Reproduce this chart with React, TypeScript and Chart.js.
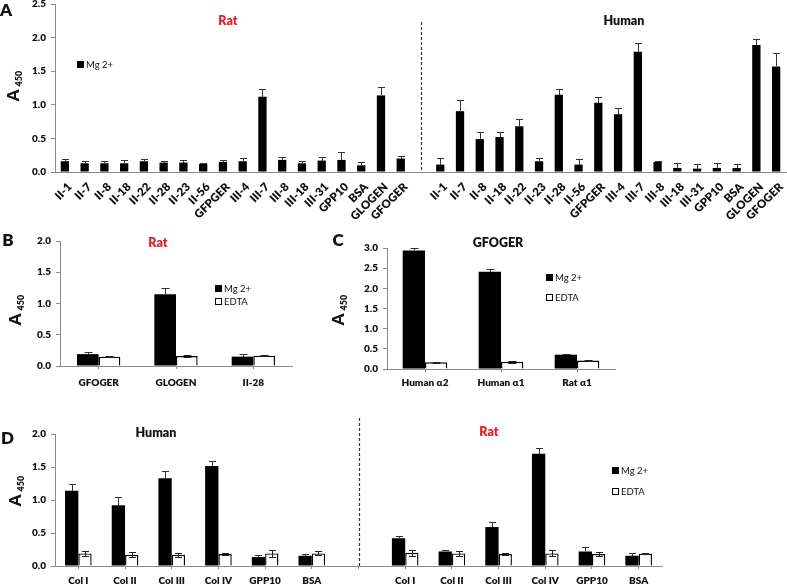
import React, { useEffect, useRef } from 'react';
import { Chart, registerables } from 'chart.js';
Chart.register(...registerables);

const FONT = 'Lato, "Open Sans", "DejaVu Sans", sans-serif';

// ---------- Panel A data ----------
const aRatLabels = ['II-1', 'II-7', 'II-8', 'II-18', 'II-22', 'II-28', 'II-23', 'II-56', 'GFPGER', 'III-4', 'III-7', 'III-8', 'III-18', 'III-31', 'GPP10', 'BSA', 'GLOGEN', 'GFOGER'];
const aRatMg = [0.16, 0.13, 0.13, 0.13, 0.16, 0.14, 0.14, 0.12, 0.15, 0.16, 1.12, 0.18, 0.13, 0.17, 0.18, 0.10, 1.14, 0.20];
const aRatErr = [0.04, 0.03, 0.03, 0.05, 0.03, 0.03, 0.04, 0.01, 0.03, 0.05, 0.11, 0.05, 0.03, 0.05, 0.12, 0.05, 0.12, 0.04];
const aHumanLabels = ['II-1', 'II-7', 'II-8', 'II-18', 'II-22', 'II-23', 'II-28', 'II-56', 'GFPGER', 'III-4', 'III-7', 'III-8', 'III-18', 'III-31', 'GPP10', 'BSA', 'GLOGEN', 'GFOGER'];
const aHumanMg = [0.11, 0.905, 0.49, 0.52, 0.68, 0.16, 1.15, 0.11, 1.03, 0.86, 1.79, 0.15, 0.06, 0.05, 0.06, 0.06, 1.89, 1.57];
const aHumanErr = [0.10, 0.165, 0.11, 0.08, 0.11, 0.05, 0.09, 0.08, 0.09, 0.09, 0.13, 0.02, 0.08, 0.07, 0.08, 0.06, 0.09, 0.20];

// ---------- Panel B data ----------
const bLabels = ['GFOGER', 'GLOGEN', 'II-28'];
const bMg = [0.19, 1.15, 0.15];
const bMgErr = [0.03, 0.10, 0.05];
const bEdta = [0.15, 0.16, 0.165];
const bEdtaErr = [0.005, 0.015, 0.005];

// ---------- Panel C data ----------
const cLabels = ['Human α2', 'Human α1', 'Rat α1'];
const cMg = [2.94, 2.41, 0.355];
const cMgErr = [0.05, 0.06, 0.025];
const cEdta = [0.165, 0.18, 0.21];
const cEdtaErr = [0.01, 0.02, 0.02];

// ---------- Panel D data ----------
const dHumanLabels = ['Col I', 'Col II', 'Col III', 'Col IV', 'GPP10', 'BSA'];
const dHumanMg = [1.14, 0.92, 1.33, 1.515, 0.135, 0.155];
const dHumanMgErr = [0.10, 0.12, 0.11, 0.075, 0.035, 0.025];
const dHumanEdta = [0.19, 0.17, 0.17, 0.18, 0.19, 0.19];
const dHumanEdtaErr = [0.04, 0.035, 0.03, 0.01, 0.05, 0.03];
const dRatLabels = ['Col I', 'Col II', 'Col III', 'Col IV', 'GPP10', 'BSA'];
const dRatMg = [0.42, 0.22, 0.59, 1.70, 0.22, 0.155];
const dRatMgErr = [0.03, 0.025, 0.08, 0.09, 0.065, 0.045];
const dRatEdta = [0.20, 0.19, 0.18, 0.19, 0.18, 0.185];
const dRatEdtaErr = [0.045, 0.035, 0.015, 0.045, 0.03, 0.01];

const AXIS = '#8a8a8a';
const TXT = '#111';
const RED = '#e0202a';
const BOLD = 800;

const errorBarPlugin = {
  id: 'errbars',
  afterDatasetsDraw(chart: any) {
    const ctx = chart.ctx;
    const area = chart.chartArea;
    const ys = chart.scales.y;
    ctx.save();
    ctx.beginPath();
    ctx.rect(area.left, 0, area.right - area.left, area.bottom);
    ctx.clip();
    chart.data.datasets.forEach((ds: any, di: number) => {
      if (!ds.errors) return;
      const meta = chart.getDatasetMeta(di);
      meta.data.forEach((bar: any, i: number) => {
        const v = ds.data[i];
        const e = ds.errors[i];
        if (v == null || e == null) return;
        const x = Math.round(bar.x) + 0.5;
        const cap = ds.errCap || 3.5;
        const hi = Math.round(ys.getPixelForValue(v + e)) + 0.5;
        const lo = ds.errUpperOnly ? Math.round(ys.getPixelForValue(v)) : Math.round(ys.getPixelForValue(v - e)) + 0.5;
        ctx.strokeStyle = ds.errColor || '#222';
        ctx.lineWidth = 1;
        ctx.beginPath();
        ctx.moveTo(x, hi);
        ctx.lineTo(x, lo);
        ctx.moveTo(x - cap, hi);
        ctx.lineTo(x + cap, hi);
        if (!ds.errUpperOnly) {
          ctx.moveTo(x - cap, lo);
          ctx.lineTo(x + cap, lo);
        }
        ctx.stroke();
      });
    });
    ctx.restore();
  },
};

const dividerPlugin = {
  id: 'divider',
  afterDraw(chart: any, _args: any, opts: any) {
    if (!opts || opts.index == null) return;
    const ctx = chart.ctx;
    const x = Math.round(chart.scales.x.getPixelForValue(opts.index)) + 0.5;
    ctx.save();
    ctx.strokeStyle = '#333';
    ctx.lineWidth = 1.2;
    ctx.setLineDash([3, 2]);
    ctx.beginPath();
    ctx.moveTo(x, opts.top);
    ctx.lineTo(x, chart.chartArea.bottom);
    ctx.stroke();
    ctx.restore();
  },
};

// Draws the category labels of the x scale at exactly -45 degrees (Excel style)
const rotLabelsPlugin = {
  id: 'rotlabels',
  afterDraw(chart: any, _args: any, opts: any) {
    if (!opts || !opts.enabled) return;
    const ctx = chart.ctx;
    const xs = chart.scales.x;
    const labels = chart.data.labels;
    ctx.save();
    ctx.font = `${BOLD} ${opts.size}px ${FONT}`;
    ctx.fillStyle = TXT;
    ctx.textAlign = 'right';
    ctx.textBaseline = 'middle';
    labels.forEach((lab: string, i: number) => {
      if (!lab) return;
      const x = xs.getPixelForTick(i) + opts.dx;
      const y = chart.chartArea.bottom + opts.dy;
      ctx.save();
      ctx.translate(x, y);
      ctx.rotate(-Math.PI / 4);
      ctx.fillText(lab, 0, 0);
      ctx.restore();
    });
    ctx.restore();
  },
};

type PanelProps = {
  left: number; top: number; width: number; height: number;
  labels: string[]; datasets: any[];
  yMax: number; yW: number; xH: number; padTop: number; padRight: number;
  xPad: number; xTicks: boolean; rotated?: boolean;
  divider?: { index: number; top: number };
};

function BarPanel(p: PanelProps) {
  const ref = useRef<HTMLCanvasElement>(null);
  useEffect(() => {
    if (!ref.current) return;
    const labelFont = { family: FONT, size: 10, weight: BOLD as any };
    const chart = new Chart(ref.current, {
      type: 'bar',
      data: { labels: p.labels, datasets: p.datasets },
      options: {
        responsive: false,
        animation: false,
        layout: { padding: { top: p.padTop, right: p.padRight, bottom: 0, left: 0 } },
        plugins: {
          legend: { display: false },
          tooltip: { enabled: false },
          divider: p.divider || {},
          rotlabels: p.rotated ? { enabled: true, size: 11.5, dx: 5, dy: 13 } : { enabled: false },
        } as any,
        scales: {
          x: {
            ticks: {
              display: !p.rotated,
              font: labelFont, color: TXT, padding: p.xPad, autoSkip: false,
              maxRotation: 0, minRotation: 0,
            },
            grid: p.xTicks
              ? { display: true, drawOnChartArea: false, drawTicks: true, offset: false, tickLength: 3, color: AXIS }
              : { display: false, drawTicks: false },
            border: { display: true, color: AXIS, width: 1 },
            afterFit: (s: any) => { s.height = p.xH; s.paddingLeft = 0; s.paddingRight = 0; },
          },
          y: {
            min: 0, max: p.yMax,
            ticks: { stepSize: 0.5, callback: (v: any) => Number(v).toFixed(1), font: labelFont, color: TXT, padding: 5 },
            grid: { display: true, drawOnChartArea: false, drawTicks: true, tickLength: 4, color: AXIS },
            border: { display: true, color: AXIS, width: 1 },
            afterFit: (s: any) => { s.width = p.yW; s.paddingTop = 0; s.paddingBottom = 0; },
          },
        },
      } as any,
      plugins: [errorBarPlugin, dividerPlugin, rotLabelsPlugin],
    });
    return () => chart.destroy();
  }, []);
  return (
    <canvas
      ref={ref}
      width={p.width}
      height={p.height}
      style={{ position: 'absolute', left: p.left, top: p.top, width: p.width, height: p.height }}
    />
  );
}

function T({ x, y, children, style }: { x: number; y: number; children: any; style?: any }) {
  return (
    <div
      style={{
        position: 'absolute', left: x, top: y, transform: 'translate(-50%, -50%)',
        whiteSpace: 'nowrap', lineHeight: 1, fontFamily: FONT, ...style,
      }}
    >
      {children}
    </div>
  );
}

function YTitle({ x, y }: { x: number; y: number }) {
  return (
    <div
      style={{
        position: 'absolute', left: x, top: y, transform: 'translate(-50%, -50%) rotate(-90deg)',
        whiteSpace: 'nowrap', lineHeight: 1, fontFamily: FONT, fontWeight: BOLD, color: TXT,
      }}
    >
      <span style={{ fontSize: 16.5 }}>A</span>
      <span style={{ fontSize: 9, position: 'relative', top: 3, marginLeft: 3 }}>450</span>
    </div>
  );
}

function LegendItem({ x, y, label, filled }: { x: number; y: number; label: string; filled: boolean }) {
  return (
    <div style={{ position: 'absolute', left: x, top: y - 6, height: 12, display: 'flex', alignItems: 'center', fontFamily: FONT, fontSize: 9.5, color: TXT, whiteSpace: 'nowrap' }}>
      <div style={{ width: 7, height: 7, boxSizing: 'border-box', background: filled ? '#000' : '#fff', border: '1.3px solid #000', marginRight: 2 }} />
      <span>{label}</span>
    </div>
  );
}

const mgStyle = { backgroundColor: '#000', borderColor: '#000', borderWidth: 0 };
const edtaStyle = { backgroundColor: '#fff', borderColor: '#000', borderWidth: 1.4 };

export default function App() {
  const aLabels = [...aRatLabels, '', ...aHumanLabels];
  const aData = [...aRatMg, null, ...aHumanMg];
  const aErr = [...aRatErr, null, ...aHumanErr];

  const dLabels = [...dHumanLabels, '', ...dRatLabels];
  const dMg = [...dHumanMg, null, ...dRatMg];
  const dMgErr = [...dHumanMgErr, null, ...dRatMgErr];
  const dEd = [...dHumanEdta, null, ...dRatEdta];
  const dEdErr = [...dHumanEdtaErr, null, ...dRatEdtaErr];

  const titleStyle = { fontWeight: BOLD, fontSize: 12.5, color: TXT };
  const letterStyle = { fontWeight: BOLD, fontSize: 17, color: TXT };

  return (
    <div style={{ position: 'absolute', left: 0, top: 0, width: 787, height: 585, background: '#fff', overflow: 'hidden' }}>
      <BarPanel
        left={0} top={0} width={787} height={230}
        labels={aLabels}
        datasets={[{ label: 'Mg 2+', data: aData, errors: aErr, errUpperOnly: true, errColor: '#333', errCap: 3.5, barPercentage: 0.42, categoryPercentage: 1, ...mgStyle }]}
        yMax={2.5} yW={55} xH={58} padTop={4} padRight={1}
        xPad={0} xTicks={false} rotated={true}
        divider={{ index: 18, top: 22 }}
      />
      <BarPanel
        left={0} top={220} width={300} height={180}
        labels={bLabels}
        datasets={[
          { label: 'Mg 2+', data: bMg, errors: bMgErr, errUpperOnly: true, errColor: '#333', errCap: 4, barPercentage: 1, categoryPercentage: 0.56, ...mgStyle },
          { label: 'EDTA', data: bEdta, errors: bEdtaErr, errColor: '#222', errCap: 4, barPercentage: 1, categoryPercentage: 0.56, ...edtaStyle },
        ]}
        yMax={2.0} yW={60} xH={34} padTop={21} padRight={8}
        xPad={8} xTicks={true}
      />
      <BarPanel
        left={330} top={225} width={290} height={175}
        labels={cLabels}
        datasets={[
          { label: 'Mg 2+', data: cMg, errors: cMgErr, errUpperOnly: true, errColor: '#333', errCap: 4, barPercentage: 1, categoryPercentage: 0.587, ...mgStyle },
          { label: 'EDTA', data: cEdta, errors: cEdtaErr, errColor: '#222', errCap: 4, barPercentage: 1, categoryPercentage: 0.587, ...edtaStyle },
        ]}
        yMax={3.0} yW={57} xH={31} padTop={23} padRight={5}
        xPad={5} xTicks={true}
      />
      <BarPanel
        left={0} top={410} width={670} height={175}
        labels={dLabels}
        datasets={[
          { label: 'Mg 2+', data: dMg, errors: dMgErr, errUpperOnly: true, errColor: '#333', errCap: 3.5, barPercentage: 1, categoryPercentage: 0.57, ...mgStyle },
          { label: 'EDTA', data: dEd, errors: dEdErr, errColor: '#222', errCap: 3.5, barPercentage: 1, categoryPercentage: 0.57, ...edtaStyle },
        ]}
        yMax={2.0} yW={55} xH={19} padTop={24} padRight={8}
        xPad={6} xTicks={true}
        divider={{ index: 6, top: 8 }}
      />

      {/* panel letters */}
      <T x={6} y={9} style={letterStyle}>A</T>
      <T x={8} y={238.5} style={letterStyle}>B</T>
      <T x={338} y={239} style={letterStyle}>C</T>
      <T x={7.5} y={436.5} style={letterStyle}>D</T>

      {/* titles */}
      <T x={228} y={21} style={{ ...titleStyle, color: RED }}>Rat</T>
      <T x={624} y={21} style={titleStyle}>Human</T>
      <T x={158} y={243} style={{ ...titleStyle, color: RED }}>Rat</T>
      <T x={498} y={243} style={titleStyle}>GFOGER</T>
      <T x={156} y={432.5} style={titleStyle}>Human</T>
      <T x={489} y={432} style={{ ...titleStyle, color: RED }}>Rat</T>

      {/* y titles */}
      <YTitle x={13} y={86} />
      <YTitle x={15} y={310} />
      <YTitle x={338} y={310} />
      <YTitle x={15} y={491} />

      {/* legends */}
      <LegendItem x={77} y={64} label="Mg 2+" filled={true} />
      <LegendItem x={215} y={288.3} label="Mg 2+" filled={true} />
      <LegendItem x={215} y={301.7} label="EDTA" filled={false} />
      <LegendItem x={546} y={277.3} label="Mg 2+" filled={true} />
      <LegendItem x={546} y={297.7} label="EDTA" filled={false} />
      <LegendItem x={612} y={470.5} label="Mg 2+" filled={true} />
      <LegendItem x={612} y={491} label="EDTA" filled={false} />
    </div>
  );
}
